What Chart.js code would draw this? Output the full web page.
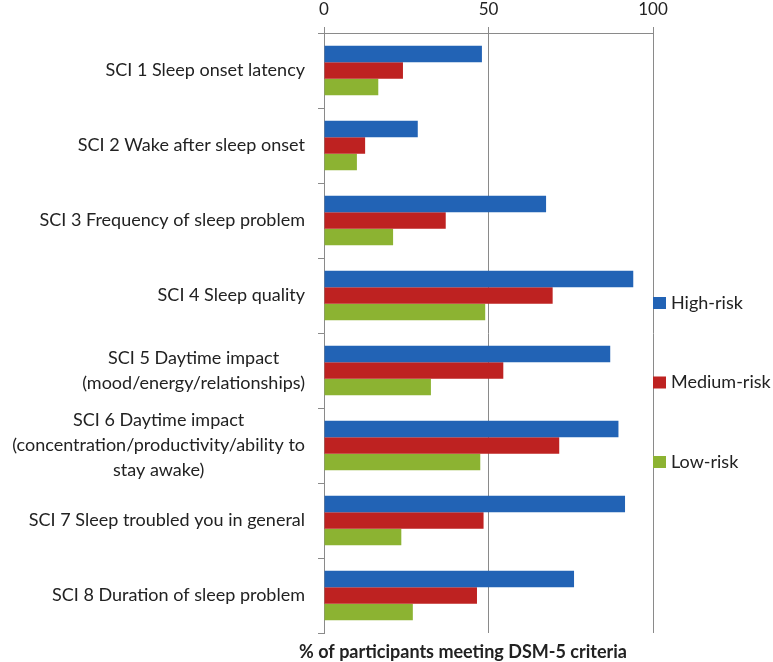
<!DOCTYPE html>
<html>
<head>
<meta charset="utf-8">
<script src="https://cdn.jsdelivr.net/npm/chart.js@4/dist/chart.umd.min.js"></script>
<style>
  body { margin: 0; background: #fff; }
  #wrap { width: 773px; height: 662px; position: relative; }
</style>
</head>
<body>
<div id="wrap"><canvas id="grafico"></canvas></div>
<script>
const categorias = [
  "SCI 1 Sleep onset latency",
  "SCI 2 Wake after sleep onset",
  "SCI 3 Frequency of sleep problem",
  "SCI 4 Sleep quality",
  ["SCI 5 Daytime impact", "(mood/energy/relationships)"],
  ["SCI 6 Daytime impact", "(concentration/productivity/ability to", "stay awake)"],
  "SCI 7 Sleep troubled you in general",
  "SCI 8 Duration of sleep problem"
];
const highRisk = [48, 28.5, 67.5, 94, 87, 89.5, 91.5, 76];
const mediumRisk = [24, 12.5, 37, 69.5, 54.5, 71.5, 48.5, 46.5];
const lowRisk = [16.5, 10, 21, 49, 32.5, 47.5, 23.5, 27];
const xTicks = [0, 50, 100];
const tituloEixo = "% of participants meeting DSM-5 criteria";

const fonte = "Lato, 'Open Sans', sans-serif";
const corTexto = "#222";
const corEixo = "#8a8a8a";

// rótulos das categorias (linhas centralizadas, bloco alinhado à direita),
// legenda à direita e título do eixo embaixo
const extras = {
  id: "extras",
  afterDraw(c) {
    const ctx = c.ctx, y = c.scales.y, area = c.chartArea;
    ctx.save();
    ctx.fillStyle = corTexto;
    ctx.font = "18px " + fonte;
    ctx.textBaseline = "middle";
    ctx.textAlign = "center";
    const right = area.left - 19;
    c.data.labels.forEach((lab, i) => {
      const linhas = Array.isArray(lab) ? lab : [lab];
      const w = Math.max(...linhas.map(l => ctx.measureText(l).width));
      const cy = y.getPixelForValue(i);
      linhas.forEach((l, k) => {
        ctx.fillText(l, right - w / 2, cy + (k - (linhas.length - 1) / 2) * 25);
      });
    });
    // legenda
    ctx.textAlign = "left";
    c.data.datasets.forEach((ds, i) => {
      const ly = area.top + 270 + i * 79.5;
      ctx.fillStyle = ds.backgroundColor;
      ctx.fillRect(area.right, ly - 6, 13, 12);
      ctx.fillStyle = corTexto;
      ctx.fillText(ds.label, area.right + 18, ly);
    });
    // título do eixo
    ctx.font = "bold 18px " + fonte;
    ctx.textAlign = "center";
    ctx.fillText(tituloEixo, 463, 652);
    ctx.restore();
  }
};

new Chart(document.getElementById("grafico"), {
  type: "bar",
  data: {
    labels: categorias,
    datasets: [
      { label: "High-risk", data: highRisk, backgroundColor: "#2263b5" },
      { label: "Medium-risk", data: mediumRisk, backgroundColor: "#be2221" },
      { label: "Low-risk", data: lowRisk, backgroundColor: "#8cb332" }
    ]
  },
  options: {
    indexAxis: "y",
    responsive: true,
    maintainAspectRatio: false,
    animation: false,
    layout: { padding: { top: 0, right: 120, bottom: 29, left: 0 } },
    datasets: { bar: { categoryPercentage: 0.66, barPercentage: 1 } },
    plugins: { legend: { display: false }, tooltip: { enabled: false } },
    scales: {
      x: {
        position: "top",
        min: 0, max: 100,
        afterBuildTicks: s => { s.ticks = xTicks.map(v => ({ value: v })); },
        afterFit: s => { s.height = 33; },
        ticks: { color: corTexto, font: { family: fonte, size: 17 }, padding: 7 },
        grid: { color: corEixo, tickLength: 6 },
        border: { color: corEixo }
      },
      y: {
        afterFit: s => { s.width = 324; },
        ticks: { display: false },
        grid: { drawOnChartArea: false, color: corEixo, tickLength: 6, offset: true },
        border: { color: corEixo }
      }
    }
  },
  plugins: [extras]
});
</script>
</body>
</html>
